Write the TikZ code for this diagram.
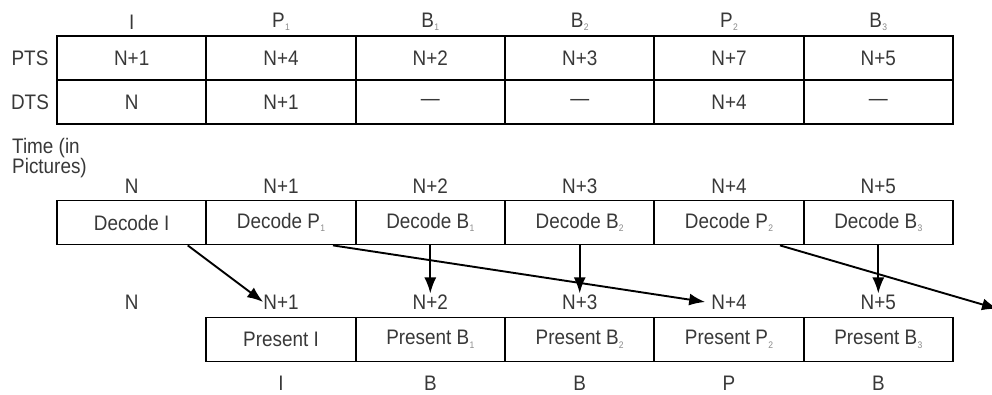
\documentclass[tikz,border=0pt]{standalone}
\usepackage{fontspec}
\setmainfont[FakeStretch=0.9]{Liberation Sans}
\usetikzlibrary{arrows.meta,calc}
\definecolor{txt}{HTML}{383838}
\definecolor{subc}{HTML}{8A8A8A}
\newcommand{\subidx}[1]{\kern0.3pt\raisebox{-3.5pt}{\fontsize{9.5}{9.5}\selectfont\textcolor{subc}{#1}}}
\begin{document}
\begin{tikzpicture}[x=1pt,y=-1pt,
  every node/.style={font=\fontsize{21}{23}\selectfont, text=txt, inner sep=1pt},
  cell/.style={draw=black, line width=1.8pt, minimum width=149.33pt, minimum height=44pt, inner sep=0pt},
  arr/.style={draw=black, line width=1.9pt, -{Latex[length=16pt,width=12pt]}}]
\useasboundingbox (0,0) rectangle (992,395);
% column centres
\def\ca{131.7}\def\cb{281}\def\cc{430.3}\def\cd{579.7}\def\ce{729}\def\cf{878.3}
% header
\node (h1) at (\ca,22) {I};
\node (h2) at (\cb,22) {P\subidx{1}};
\node (h3) at (\cc,22) {B\subidx{1}};
\node (h4) at (\cd,22) {B\subidx{2}};
\node (h5) at (\ce,22) {P\subidx{2}};
\node (h6) at (\cf,22) {B\subidx{3}};
% row labels
\node (pts) at (30,58) {PTS};
\node (dts) at (30,102) {DTS};
% PTS row
\node[cell] (p1) at (\ca,58) {N+1};
\node[cell] (p2) at (\cb,58) {N+4};
\node[cell] (p3) at (\cc,58) {N+2};
\node[cell] (p4) at (\cd,58) {N+3};
\node[cell] (p5) at (\ce,58) {N+7};
\node[cell] (p6) at (\cf,58) {N+5};
% DTS row
\node[cell] (t1) at (\ca,102) {N};
\node[cell] (t2) at (\cb,102) {N+1};
\node[cell] (t3) at (\cc,102) {—};
\node[cell] (t4) at (\cd,102) {—};
\node[cell] (t5) at (\ce,102) {N+4};
\node[cell] (t6) at (\cf,102) {—};
% time label
\node[anchor=west, align=left, font=\fontsize{21}{15}\selectfont] (time) at (11,158) {Time (in\\Pictures)};
% decode times
\node (e1) at (\ca,186) {N};
\node (e2) at (\cb,186) {N+1};
\node (e3) at (\cc,186) {N+2};
\node (e4) at (\cd,186) {N+3};
\node (e5) at (\ce,186) {N+4};
\node (e6) at (\cf,186) {N+5};
% decode row
\node[cell] (d1) at (\ca,222.5) {Decode I};
\node[cell] (d2) at (\cb,222.5) {Decode P\subidx{1}};
\node[cell] (d3) at (\cc,222.5) {Decode B\subidx{1}};
\node[cell] (d4) at (\cd,222.5) {Decode B\subidx{2}};
\node[cell] (d5) at (\ce,222.5) {Decode P\subidx{2}};
\node[cell] (d6) at (\cf,222.5) {Decode B\subidx{3}};
% present times
\node (q0) at (\ca,302) {N};
\node (q1) at (\cb,302) {N+1};
\node (q2) at (\cc,302) {N+2};
\node (q3) at (\cd,302) {N+3};
\node (q4) at (\ce,302) {N+4};
\node (q5) at (\cf,302) {N+5};
% present row
\node[cell] (r1) at (\cb,339.5) {Present I};
\node[cell] (r2) at (\cc,339.5) {Present B\subidx{1}};
\node[cell] (r3) at (\cd,339.5) {Present B\subidx{2}};
\node[cell] (r4) at (\ce,339.5) {Present P\subidx{2}};
\node[cell] (r5) at (\cf,339.5) {Present B\subidx{3}};
% bottom types
\node (b1) at (\cb,383) {I};
\node (b2) at (\cc,383) {B};
\node (b3) at (\cd,383) {B};
\node (b4) at (\ce,383) {P};
\node (b5) at (\cf,383) {B};
% arrows
\coordinate (endc) at (998,309);
\draw[arr] ([xshift=56pt]d1.south) -- ([xshift=1pt]q1.west);
\draw[arr] ([xshift=52pt]d2.south) -- ([xshift=-5pt]q4.west);
\draw[arr] (d3.south) -- (q2.north);
\draw[arr] (d4.south) -- (q3.north);
\draw[arr] (d6.south) -- (q5.north);
\draw[arr] ([xshift=51pt]d5.south) -- (endc);
\end{tikzpicture}
\end{document}
